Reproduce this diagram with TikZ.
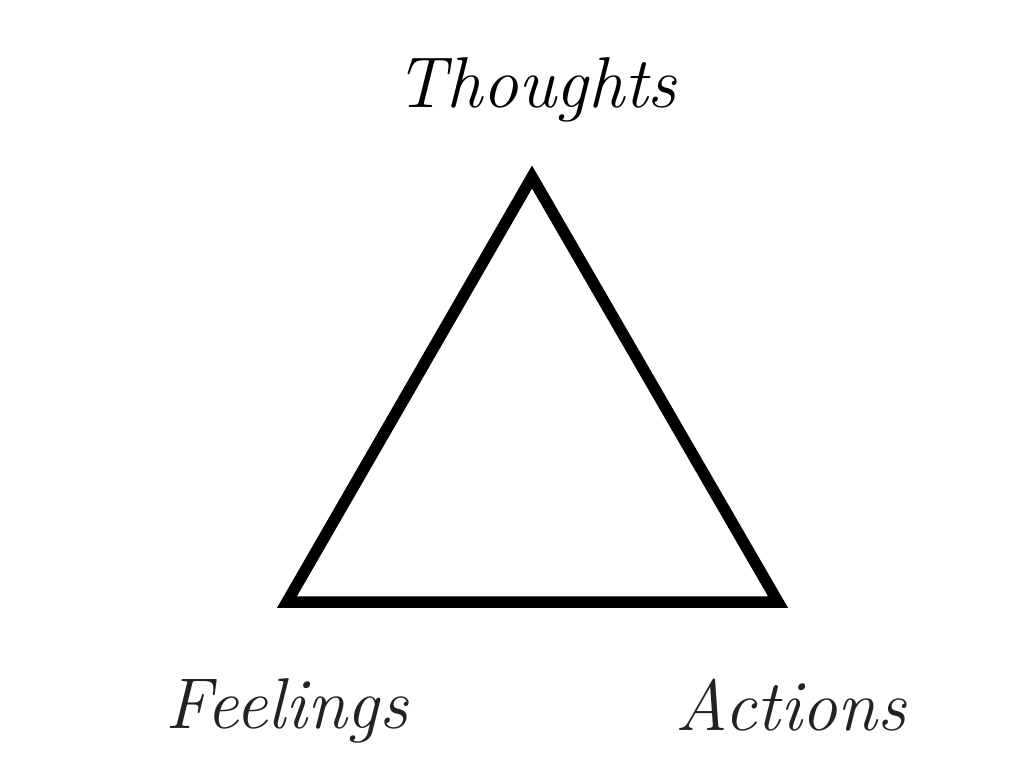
\documentclass[tikz,border=0pt]{standalone}
\usepackage{tikz}
\usetikzlibrary{positioning}
\definecolor{ink}{HTML}{222222}
\tikzset{word/.style={font=\fontsize{72}{78}\selectfont\itshape,text=ink,anchor=base,inner sep=0pt}}

\begin{document}
\begin{tikzpicture}[x=1pt,y=-1pt]
\useasboundingbox (0,0) rectangle (1025,769);
\coordinate (top) at (532,177);
\coordinate (left) at (287,602);
\coordinate (right) at (778,602);
\draw[line width=11.5pt,line join=miter](top)--(left)--(right)--cycle;
\node[word,text=black] (thoughts) at (536,107) {Thoughts};
\node[word] (feelings) at (287,728) {Feelings};
\node[word] (actions) at (791,730) {Actions};
\end{tikzpicture}
\end{document}
